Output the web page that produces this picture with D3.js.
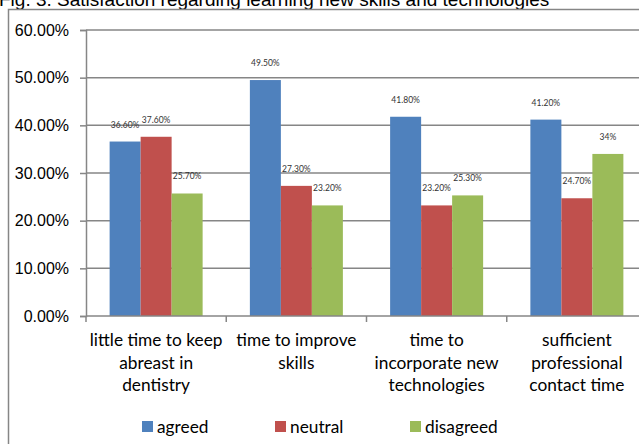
<!DOCTYPE html>
<html>
<head>
<meta charset="utf-8">
<script src="https://cdn.jsdelivr.net/npm/d3@7"></script>
<style>
  html, body { margin: 0; padding: 0; background: #fff; overflow: hidden; }
  svg { display: block; }
</style>
</head>
<body>
<svg id="chart" width="639" height="444"></svg>
<script>
// Survey categories (each split into the lines shown under the axis)
const categories = [
  "little time to keep abreast in dentistry",
  "time to improve skills",
  "time to incorporate new technologies",
  "sufficient professional contact time"
];
const categoryLines = [
  ["little time to keep", "abreast in", "dentistry"],
  ["time to improve", "skills"],
  ["time to", "incorporate new", "technologies"],
  ["sufficient", "professional", "contact time"]
];

// Response shares per category, as printed above each bar
const seriesNames = ["agreed", "neutral", "disagreed"];
const agreedLabels = ["36.60%", "49.50%", "41.80%", "41.20%"];
const neutralLabels = ["37.60%", "27.30%", "23.20%", "24.70%"];
const disagreedLabels = ["25.70%", "23.20%", "25.30%", "34%"];
const seriesColors = ["#4F81BD", "#C0504D", "#9BBB59"];

const yTicks = [0, 10, 20, 30, 40, 50, 60];
const yTickLabels = ["0.00%", "10.00%", "20.00%", "30.00%", "40.00%", "50.00%", "60.00%"];

const title = "Fig. 3. Satisfaction regarding learning new skills and technologies";

const labelSets = [agreedLabels, neutralLabels, disagreedLabels];
const rows = categories.map((c, i) => ({
  category: c,
  values: seriesNames.map((s, k) => ({
    series: s,
    label: labelSets[k][i],
    value: parseFloat(labelSets[k][i]),
    color: seriesColors[k]
  }))
}));

const svg = d3.select("#chart");
const grid = "#868686";
const bodyFont = "Lato, Carlito, Calibri, sans-serif";

// Title, running off the top edge
svg.append("text")
  .attr("x", -1).attr("y", 5.5)
  .attr("font-family", "Liberation Sans, Arial, sans-serif")
  .attr("font-size", 19)
  .attr("fill", "#000")
  .text(title);

// Chart frame
svg.append("path")
  .attr("d", "M8.5,444 V9.5 H639")
  .attr("fill", "none")
  .attr("stroke", grid)
  .attr("stroke-width", 1.5);

const plot = { left: 86, right: 647, top: 30, bottom: 316 };

const x0 = d3.scaleBand().domain(categories).range([plot.left, plot.right]).paddingInner(0).paddingOuter(0);
const x1 = d3.scaleBand().domain(seriesNames).range([0, x0.bandwidth()]).paddingInner(0).paddingOuter(0.762);
const y = d3.scaleLinear().domain([0, 60]).range([plot.bottom, plot.top]);

// Horizontal gridlines
svg.append("g")
  .selectAll("line")
  .data(yTicks.filter(t => t > 0))
  .join("line")
  .attr("x1", plot.left).attr("x2", plot.right)
  .attr("y1", d => y(d)).attr("y2", d => y(d))
  .attr("stroke", grid).attr("stroke-width", 1.5);

// Y axis
const yAxis = d3.axisLeft(y).tickValues(yTicks).tickSize(6).tickPadding(11)
  .tickFormat((d, i) => yTickLabels[i]);
const gy = svg.append("g").attr("transform", `translate(${plot.left},0)`).call(yAxis);
gy.select(".domain").attr("stroke", grid).attr("stroke-width", 1.5);
gy.selectAll(".tick line").attr("stroke", grid).attr("stroke-width", 1.5);
gy.selectAll(".tick text")
  .attr("font-family", "Liberation Sans, Arial, sans-serif")
  .attr("font-size", 16).attr("fill", "#000");

// Bars
const groups = svg.append("g")
  .selectAll("g")
  .data(rows)
  .join("g")
  .attr("transform", d => `translate(${x0(d.category)},0)`);

groups.selectAll("rect")
  .data(d => d.values)
  .join("rect")
  .attr("x", d => x1(d.series))
  .attr("width", x1.bandwidth())
  .attr("y", d => y(d.value))
  .attr("height", d => y(0) - y(d.value))
  .attr("fill", d => d.color);

// Value labels above bars
groups.selectAll("text")
  .data(d => d.values)
  .join("text")
  .attr("x", d => x1(d.series) + x1.bandwidth() / 2)
  .attr("y", d => y(d.value) - 14)
  .attr("text-anchor", "middle")
  .attr("font-family", bodyFont)
  .attr("font-size", 8.5)
  .attr("fill", "#333")
  .text(d => d.label);

// X axis
const xAxis = d3.axisBottom(x0).tickSize(0).tickFormat("");
const gx = svg.append("g").attr("transform", `translate(0,${plot.bottom})`).call(xAxis);
gx.select(".domain").attr("stroke", grid).attr("stroke-width", 1.5).attr("d", `M${plot.left},0H${plot.right}`);

// Category separators below the axis
svg.append("g")
  .selectAll("line")
  .data(categories)
  .join("line")
  .attr("x1", d => x0(d)).attr("x2", d => x0(d))
  .attr("y1", plot.bottom).attr("y2", plot.bottom + 6)
  .attr("stroke", grid).attr("stroke-width", 1.5);

// Category labels
const catText = svg.append("g")
  .selectAll("text")
  .data(categories)
  .join("text")
  .attr("text-anchor", "middle")
  .attr("font-family", bodyFont)
  .attr("font-size", 17.3)
  .attr("fill", "#000");
catText.selectAll("tspan")
  .data((d, i) => categoryLines[i].map(line => ({ line, cat: d })))
  .join("tspan")
  .attr("x", d => x0(d.cat) + x0.bandwidth() / 2)
  .attr("y", (d, j) => 346 + j * 22.5)
  .text(d => d.line);

// Legend
const legendX = [142, 275, 410];
const legend = svg.append("g")
  .selectAll("g")
  .data(seriesNames)
  .join("g")
  .attr("transform", (d, i) => `translate(${legendX[i]},421)`);
legend.append("rect")
  .attr("width", 11).attr("height", 11)
  .attr("fill", (d, i) => seriesColors[i]);
legend.append("text")
  .attr("x", 15).attr("y", 11.5)
  .attr("font-family", bodyFont)
  .attr("font-size", 17.3)
  .attr("fill", "#000")
  .text(d => d);
</script>
</body>
</html>
